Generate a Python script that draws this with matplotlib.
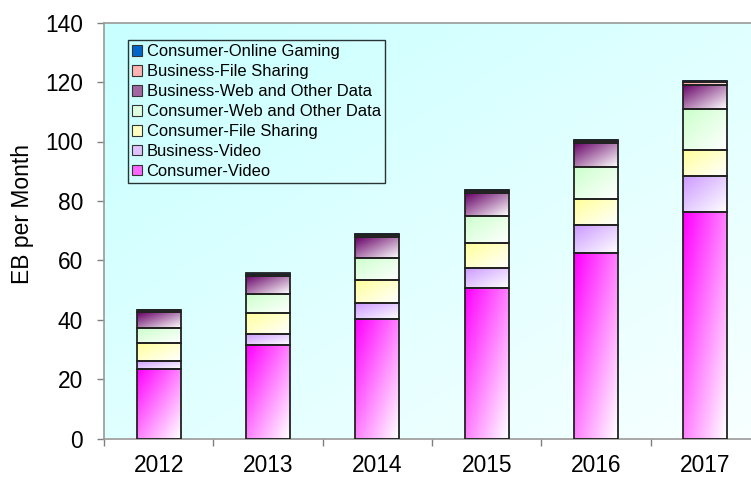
import numpy as np
import matplotlib
matplotlib.use('Agg')
import matplotlib.pyplot as plt
from matplotlib.patches import Patch
from matplotlib.colors import to_rgb

plt.rcParams['font.family'] = ['Liberation Sans', 'DejaVu Sans']

years = ['2012', '2013', '2014', '2015', '2016', '2017']
consumer_video = [23.4, 31.4, 40.2, 50.6, 62.5, 76.2]
business_video = [2.7, 3.8, 5.3, 6.9, 9.4, 12.2]
consumer_file_sharing = [6.2, 7.1, 7.8, 8.4, 8.6, 8.9]
consumer_web = [5.0, 6.2, 7.5, 9.1, 11.0, 13.5]
business_web = [5.3, 6.2, 6.9, 7.6, 8.1, 8.3]
business_file_sharing = [0.5, 0.5, 0.7, 0.6, 0.6, 0.8]
consumer_gaming = [0.3, 0.4, 0.4, 0.4, 0.4, 0.5]

series_names = ['Consumer-Video', 'Business-Video', 'Consumer-File Sharing',
                'Consumer-Web and Other Data', 'Business-Web and Other Data',
                'Business-File Sharing', 'Consumer-Online Gaming']
series_values = [consumer_video, business_video, consumer_file_sharing,
                 consumer_web, business_web, business_file_sharing, consumer_gaming]
series_colors = ['#ff00ff', '#cc99ff', '#ffff99', '#ccffcc', '#660066', '#ff8080', '#0066cc']
series_end = ['#ffffff', '#ffffff', '#ffffff', '#ffffff', '#ffffff', '#ffffff', '#0066cc']


def gradient(c0, c1, n=32):
    c0 = np.array(to_rgb(c0))
    c1 = np.array(to_rgb(c1))
    u = np.linspace(0, 1, n)
    v = np.linspace(0, 1, n)
    U, V = np.meshgrid(u, v)
    t = (U + V) / 2.0
    return c0[None, None, :] * (1 - t[..., None]) + c1[None, None, :] * t[..., None]


W, H = 751, 478
fig = plt.figure(figsize=(W / 100, H / 100), dpi=100)
fig.patch.set_facecolor('white')
ax_left, ax_right, ax_top, ax_bottom = 104, 760, 22.7, 438.5
ax = fig.add_axes([ax_left / W, 1 - ax_bottom / H, (ax_right - ax_left) / W, (ax_bottom - ax_top) / H])

# background gradient
bg = gradient('#c8ffff', '#f8ffff', 64)
ax.imshow(bg, extent=(0, 1, 0, 1), transform=ax.transAxes, aspect='auto',
          zorder=0, interpolation='bilinear')

x = np.arange(len(years))
width = 0.4
bottom = np.zeros(len(years))
for vals, c0, c1 in zip(series_values, series_colors, series_end):
    vals = np.array(vals)
    img = gradient(c0, c1)
    for xi, b, v in zip(x, bottom, vals):
        ax.imshow(img, extent=(xi - width / 2, xi + width / 2, b, b + v),
                  aspect='auto', zorder=2, interpolation='bilinear')
    ax.bar(x, vals, width, bottom=bottom, fill=False, edgecolor='#222222',
           linewidth=1.3, zorder=3)
    bottom = bottom + vals

ax.set_xlim(-0.5, len(years) - 0.5)
ax.set_ylim(0, 140)
ax.set_aspect('auto')

ax.set_xticks(np.arange(-0.5, len(years), 1.0))
ax.set_xticklabels([])
ax.set_xticks(x, minor=True)
ax.set_xticklabels(years, minor=True)
ax.tick_params(axis='x', which='major', length=5, width=1, color='#808080', direction='out')
ax.tick_params(axis='x', which='minor', length=0, pad=11, labelsize=16.4)
ax.set_yticks(np.arange(0, 141, 20))
ax.tick_params(axis='y', length=5, width=1, color='#808080', pad=10, labelsize=16.4)

for s in ['left', 'bottom', 'top', 'right']:
    ax.spines[s].set_color('#999999')
    ax.spines[s].set_linewidth(1.2)

fig.text(23 / W, 1 - 214 / H, 'EB per Month', rotation=90, ha='center', va='center',
         fontsize=16.5)

# legend (reverse order)
handles = []
for name, c0 in zip(series_names, series_colors):
    c = np.array(to_rgb(c0))
    if name == 'Consumer-Online Gaming':
        fc = c
    else:
        fc = c * 0.6 + 0.4
    handles.append(Patch(facecolor=fc, edgecolor='#333333', linewidth=0.8, label=name))
handles = handles[::-1]
leg = ax.legend(handles=handles, loc='upper left',
                bbox_to_anchor=(128 / W, 1 - 40 / H), bbox_transform=fig.transFigure,
                borderaxespad=0, fontsize=11.9, frameon=True, fancybox=False,
                handlelength=0.62, handleheight=0.62, handletextpad=0.25,
                labelspacing=0.3, borderpad=0.25)
leg.get_frame().set_edgecolor('black')
leg.get_frame().set_linewidth(1.0)
leg.get_frame().set_facecolor('none')
leg.set_zorder(5)

fig.savefig('out.png', dpi=100)
